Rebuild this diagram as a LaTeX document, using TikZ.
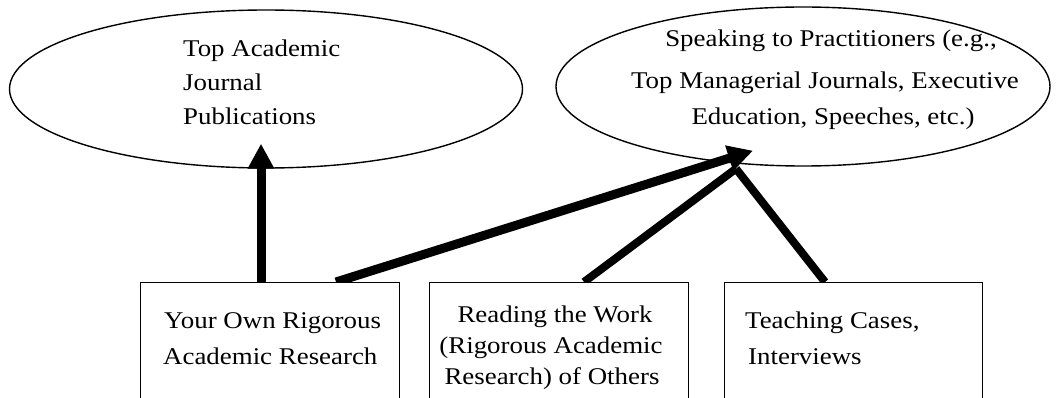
\documentclass[tikz,border=0pt]{standalone}
\usepackage{fontspec}
\setmainfont{Liberation Serif}[FakeStretch=1.12]
\usetikzlibrary{arrows.meta,shapes.geometric,backgrounds}
\begin{document}
\begin{tikzpicture}[x=1pt,y=-1pt,
  ell/.style={draw, ellipse, line width=1.4pt, inner sep=0pt},
  boxn/.style={draw, rectangle, line width=1.3pt, fill=white, inner sep=0pt, anchor=north west, minimum height=200pt},
  txt/.style={inner sep=0pt, font=\fontsize{24}{28}\selectfont},
  conn/.style={line width=9pt},
  connthin/.style={line width=8pt},
  headarrow/.style={conn, -{Triangle[length=25pt,width=25pt]}}]
\useasboundingbox (0,0) rectangle (1058,398);
\clip (0,0) rectangle (1058,398);

% ellipses
\node[ell, minimum width=513pt, minimum height=158pt] (e1) at (266,89) {};
\node[ell, minimum width=494pt, minimum height=159pt] (e2) at (803,86.5) {};

% boxes
\node[boxn, minimum width=259pt] (b1) at (140,282) {};
\node[boxn, minimum width=259pt] (b2) at (429,282) {};
\node[boxn, minimum width=258pt] (b3) at (724,282) {};

% connectors
\coordinate (m) at ([xshift=-67pt,yshift=-2pt]e2.south);
\begin{scope}[on background layer]
  \fill[white] (0,0) rectangle (1058,398);
  \draw[headarrow] ([xshift=121pt]b1.north west) -- ([xshift=-5pt,yshift=25pt]e1.south);
  \draw[headarrow] ([xshift=196pt]b1.north west) -- ([xshift=-50pt,yshift=16pt]e2.south);
  \draw[connthin] ([xshift=155pt]b2.north west) -- (m);
  \draw[connthin] ([xshift=101pt]b3.north west) -- (m);
\end{scope}

% ellipse 1 text
\node[txt, anchor=base west] (t1a) at (183,57) {Top Academic};
\node[txt, anchor=base west] (t1b) at (183,91) {Journal};
\node[txt, anchor=base west] (t1c) at (183,125) {Publications};

% ellipse 2 text
\node[txt, anchor=base] (t2a) at (831,47) {Speaking to Practitioners (e.g.,};
\node[txt, anchor=base] (t2b) at (825,89) {Top Managerial Journals, Executive};
\node[txt, anchor=base] (t2c) at (833,125) {Education, Speeches, etc.)};

% box 1 text
\node[txt, anchor=base west] (t3a) at (164,328) {Your Own Rigorous};
\node[txt, anchor=base west] (t3b) at (163,364) {Academic Research};

% box 2 text
\node[txt, anchor=base] (t4a) at (555,322) {Reading the Work};
\node[txt, anchor=base] (t4b) at (551,353) {(Rigorous Academic};
\node[txt, anchor=base] (t4c) at (552,384) {Research) of Others};

% box 3 text
\node[txt, anchor=base west] (t5a) at (745,328) {Teaching Cases,};
\node[txt, anchor=base west] (t5b) at (748,364) {Interviews};
\end{tikzpicture}
\end{document}
